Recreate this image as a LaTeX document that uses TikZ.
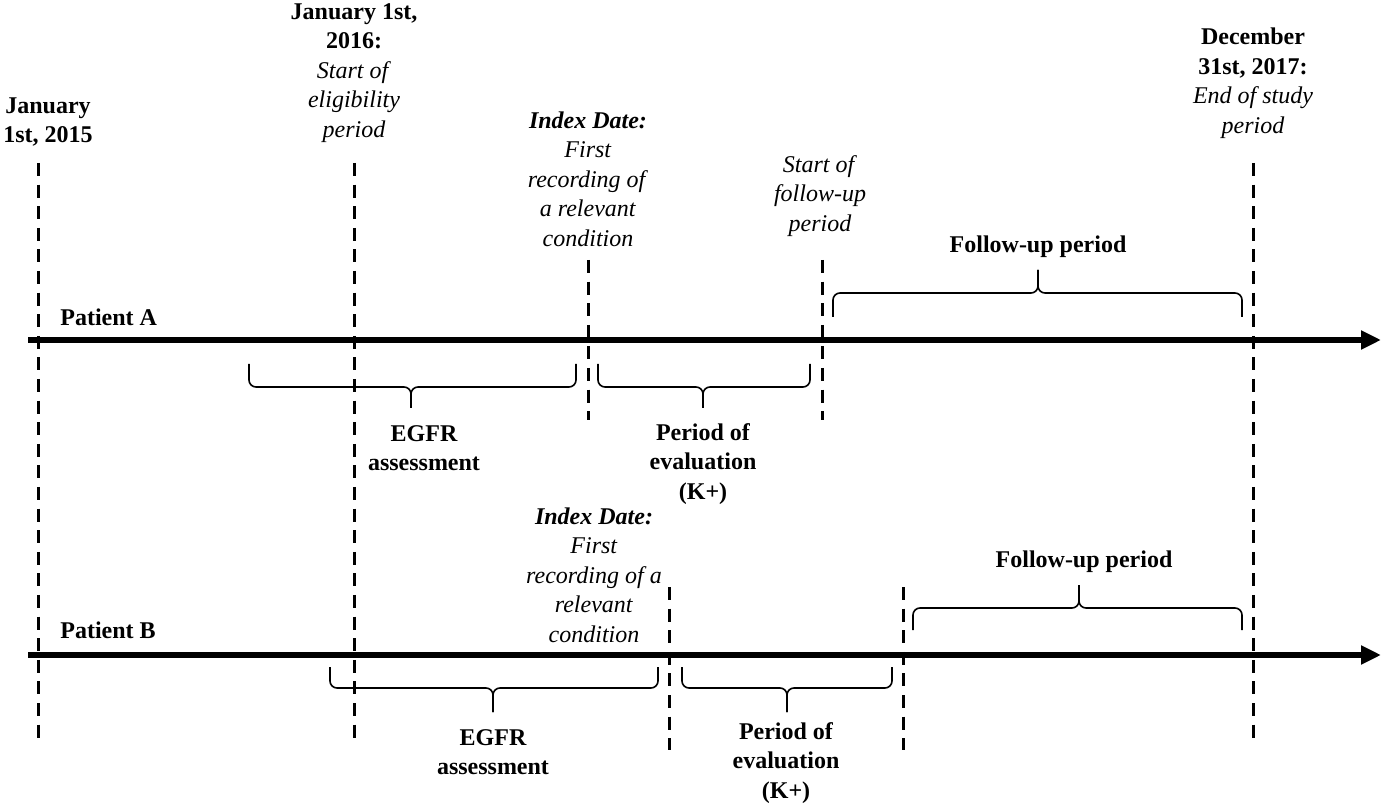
\documentclass[tikz,border=0pt]{standalone}
\usepackage{fontspec}
\setmainfont{Liberation Serif}
\usetikzlibrary{arrows.meta}

\begin{document}
\begin{tikzpicture}[x=0.5pt, y=-0.5pt,
  axis/.style={line width=3pt, -{Triangle[length=10pt, width=9pt]}},
  marker/.style={line width=1.5pt, dash pattern=on 6.5pt off 4.3pt},
  curly/.style={line width=0.8pt, rounded corners=3.5pt},
  txt/.style={align=center, inner sep=0pt, font=\fontsize{12}{14.75}\selectfont},
  lbl/.style={txt, font=\fontsize{12}{14.75}\selectfont\bfseries}
]
  \useasboundingbox (0,0) rectangle (1382,807);

  % Time axes
  \coordinate (axA0) at (28,340);  \coordinate (axA1) at (1381,340);
  \coordinate (axB0) at (28,655);  \coordinate (axB1) at (1381,655);
  \draw[axis] (axA0) -- (axA1);
  \draw[axis] (axB0) -- (axB1);

  \node[lbl, anchor=west] (patA) at (60,317) {Patient A};
  \node[lbl, anchor=west] (patB) at (60,630) {Patient B};

  % Study dates
  \node[lbl] (jan15) at (48,122) {January\\1st, 2015};
  \node[txt] (jan16) at (354,73) {\textbf{January 1st,}\\\textbf{2016:}\\\textit{Start of}\\\textit{eligibility}\\\textit{period}};
  \node[txt] (dec17) at (1253,83) {\textbf{December}\\\textbf{31st, 2017:}\\\textit{End of study}\\\textit{period}};

  \coordinate (m15a) at (38,163);   \coordinate (m15b) at (38,740);
  \coordinate (m16a) at (354,163);  \coordinate (m16b) at (354,740);
  \coordinate (m17a) at (1253,163); \coordinate (m17b) at (1253,738);
  \draw[marker] (m15a) -- (m15b);
  \draw[marker] (m16a) -- (m16b);
  \draw[marker] (m17a) -- (m17b);

  % Patient A
  \node[txt] (idxA) at (588,179) {\textbf{\textit{Index Date:}}\\\textit{First}\\\textit{recording of}\\\textit{a relevant}\\\textit{condition}};
  \node[txt] (fupA) at (820,196) {\textit{Start of}\\\textit{follow-up}\\\textit{period}};
  \coordinate (idxAa) at (588,260); \coordinate (idxAb) at (588,420);
  \coordinate (fupAa) at (822,260); \coordinate (fupAb) at (822,420);
  \draw[marker] (idxAa) -- (idxAb);
  \draw[marker] (fupAa) -- (fupAb);

  \draw[curly] (249,364) |- (411,387) -- (411,408);
  \draw[curly] (576,364) |- (411,387) -- (411,408);
  \draw[curly] (598,364) |- (703,387) -- (703,408);
  \draw[curly] (810,364) |- (703,387) -- (703,408);
  \draw[curly] (833,317) |- (1038,293) -- (1038,270);
  \draw[curly] (1242,317) |- (1038,293) -- (1038,270);

  \node[lbl] (egfrA) at (424,448) {EGFR\\assessment};
  \node[lbl] (evalA) at (703,464) {Period of\\evaluation\\(K+)};
  \node[lbl] (folA) at (1038,247) {Follow-up period};

  % Patient B
  \node[txt] (idxB) at (594,575) {\textbf{\textit{Index Date:}}\\\textit{First}\\\textit{recording of a}\\\textit{relevant}\\\textit{condition}};
  \coordinate (idxBa) at (669,587); \coordinate (idxBb) at (669,750);
  \coordinate (fupBa) at (903,587); \coordinate (fupBb) at (903,750);
  \draw[marker] (idxBa) -- (idxBb);
  \draw[marker] (fupBa) -- (fupBb);

  \draw[curly] (330,667) |- (493,688) -- (493,712);
  \draw[curly] (658,667) |- (493,688) -- (493,712);
  \draw[curly] (682,667) |- (787,688) -- (787,712);
  \draw[curly] (892,667) |- (787,688) -- (787,712);
  \draw[curly] (913,630) |- (1079,608) -- (1079,585);
  \draw[curly] (1242,630) |- (1079,608) -- (1079,585);

  \node[lbl] (egfrB) at (493,752) {EGFR\\assessment};
  \node[lbl] (evalB) at (786,763) {Period of\\evaluation\\(K+)};
  \node[lbl] (folB) at (1084,562) {Follow-up period};
\end{tikzpicture}
\end{document}
